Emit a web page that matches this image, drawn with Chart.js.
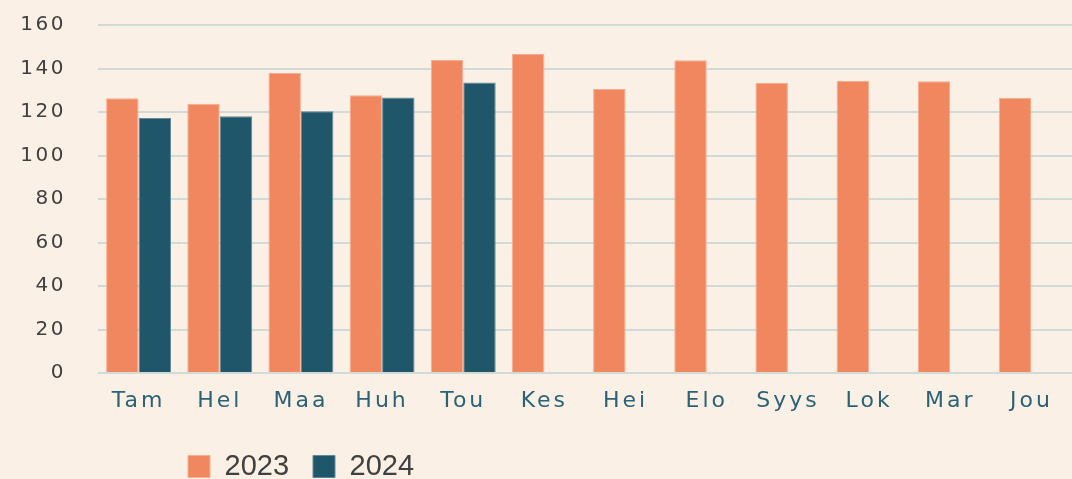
<!DOCTYPE html>
<html lang="fi">
<head>
<meta charset="UTF-8">
<title>Kuukausittain 2023 / 2024</title>
<script src="https://cdn.jsdelivr.net/npm/chart.js"></script>
<style>
  html, body { margin: 0; padding: 0; background: #FAF0E6; }
  #wrap { width: 1072px; height: 479px; }
</style>
</head>
<body>
<div id="wrap"><canvas id="chart"></canvas></div>
<script>
  const months = ['Tam', 'Hel', 'Maa', 'Huh', 'Tou', 'Kes', 'Hei', 'Elo', 'Syys', 'Lok', 'Mar', 'Jou'];
  const values2023 = [126.3, 123.8, 138.1, 127.7, 143.9, 146.7, 130.6, 143.8, 133.3, 134.4, 134.1, 126.6];
  const values2024 = [117.2, 118.1, 120.3, 126.7, 133.6, null, null, null, null, null, null, null];
  const yTicks = [0, 20, 40, 60, 80, 100, 120, 140, 160];

  // wrap a draw method so its text gets some letter spacing
  function spaced(obj, method, px) {
    if (obj['_sp_' + method]) return;
    const orig = obj[method];
    obj[method] = function (...args) {
      const ctx = this.ctx;
      const prev = ctx.letterSpacing;
      ctx.letterSpacing = px;
      orig.apply(this, args);
      ctx.letterSpacing = prev;
    };
    obj['_sp_' + method] = true;
  }

  const tweaks = {
    id: 'tweaks',
    afterLayout(chart) {
      spaced(chart.scales.x, 'drawLabels', '3px');
      spaced(chart.scales.y, 'drawLabels', '2.5px');
      // legend sits left of centre in the original
      chart.legend.left = 164;
    }
  };

  new Chart(document.getElementById('chart'), {
    type: 'bar',
    data: {
      labels: months,
      datasets: [
        { label: '2023', data: values2023, backgroundColor: '#F0875F', borderColor: '#F6AD8F', borderWidth: 1 },
        { label: '2024', data: values2024, backgroundColor: '#1F566A', borderColor: '#62899A', borderWidth: 1 }
      ]
    },
    options: {
      responsive: true,
      maintainAspectRatio: false,
      animation: false,
      categoryPercentage: 0.8,
      barPercentage: 1,
      layout: { padding: { top: 25, right: -5, left: 0, bottom: -12 } },
      plugins: {
        tooltip: { enabled: false },
        legend: {
          position: 'bottom',
          align: 'start',
          labels: {
            boxWidth: 22,
            boxHeight: 22,
            padding: 24,
            color: '#404040',
            font: { family: 'Liberation Sans', size: 29 }
          }
        }
      },
      scales: {
        x: {
          afterFit(axis) { axis.height = 55; axis.paddingLeft = 0; axis.paddingRight = 0; },
          grid: { display: false, drawTicks: false },
          border: { display: false },
          ticks: { color: '#2C6275', padding: 15, maxRotation: 0, font: { family: 'DejaVu Sans', size: 22 } }
        },
        y: {
          min: 0,
          max: 160,
          afterFit(axis) { axis.width = 98; axis.paddingTop = 0; axis.paddingBottom = 0; },
          afterBuildTicks(axis) { axis.ticks = yTicks.map(v => ({ value: v })); },
          grid: { color: '#D0DBD7', lineWidth: 2, drawTicks: false },
          border: { display: false },
          ticks: { color: '#404040', padding: 32, font: { family: 'DejaVu Sans', size: 20 } }
        }
      }
    },
    plugins: [tweaks]
  });
</script>
</body>
</html>
